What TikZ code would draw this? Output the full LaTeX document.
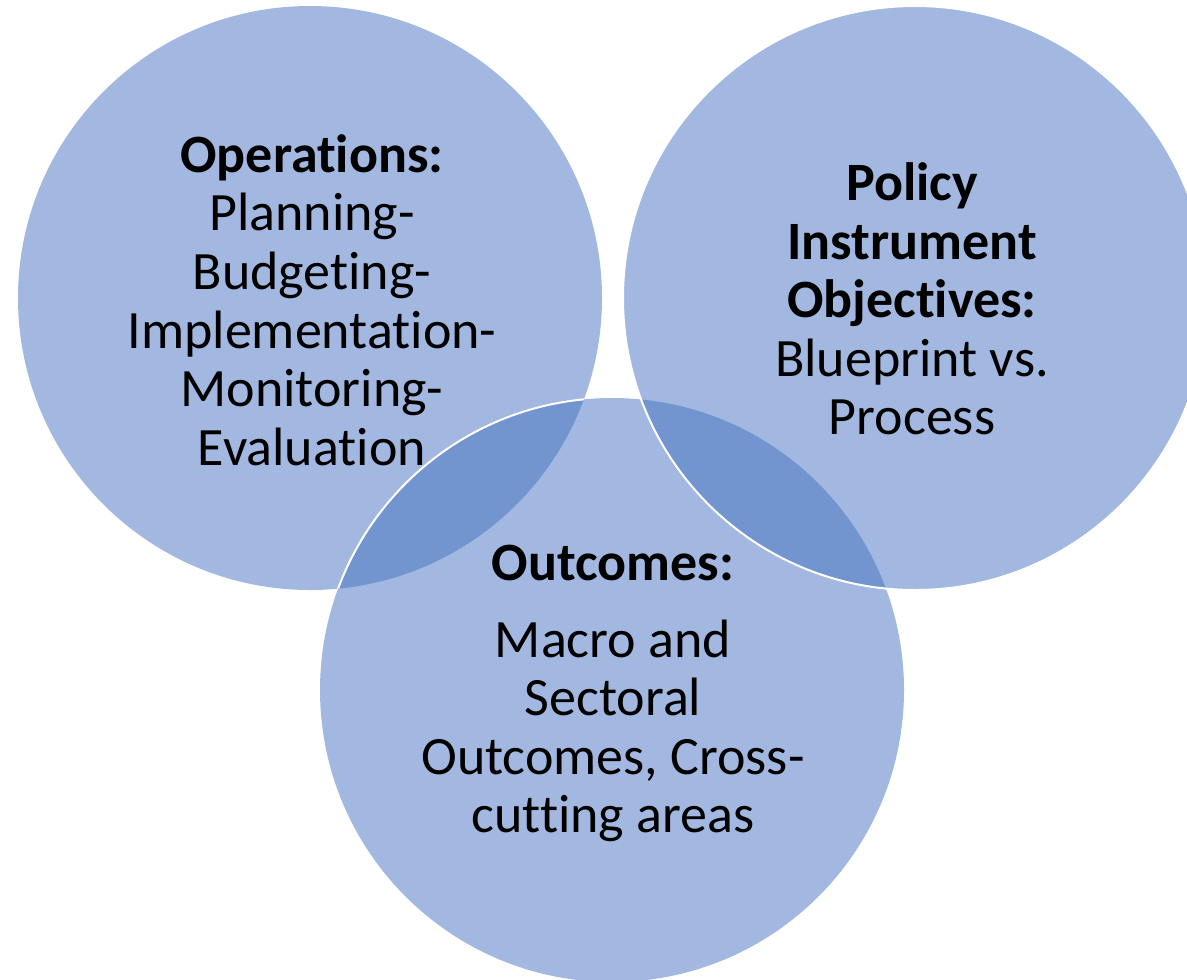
\documentclass[tikz,border=0pt]{standalone}
\usepackage{fontspec}
\setmainfont[RawFeature={-liga}]{Carlito}
\definecolor{ringfill}{HTML}{A2B8E0}
\definecolor{lensfill}{HTML}{7295CF}
\begin{document}
\begin{tikzpicture}[x=0.75pt,y=-0.75pt,
  label/.style={align=center,font=\fontsize{40.5}{43.9}\selectfont,inner sep=0pt}]
\useasboundingbox (0,0) rectangle (1187,979);
% circle centres and radius
\coordinate (cl) at (310,298);
\coordinate (cr) at (915,298);
\coordinate (cb) at (612,690);
\def\rad{292}
% the three discs
\fill[ringfill] (cl) circle[radius=\rad];
\fill[ringfill] (cb) circle[radius=\rad];
\fill[ringfill] (cr) circle[radius=\rad];
% overlapping lenses
\begin{scope}
  \clip (cl) circle[radius=\rad];
  \fill[lensfill] (cb) circle[radius=\rad];
\end{scope}
\begin{scope}
  \clip (cr) circle[radius=\rad];
  \fill[lensfill] (cb) circle[radius=\rad];
\end{scope}
% white rims of the upper layers
\begin{scope}
  \clip (cl) circle[radius=\rad];
  \draw[white,line width=1.5pt] (cb) circle[radius=\rad];
\end{scope}
\draw[white,line width=1.5pt] (cr) circle[radius=\rad];
% texts
\node[label] (ops) at (312,300) {\textbf{Operations:}\\Planning-\\Budgeting-\\Implementation-\\Monitoring-\\Evaluation};
\node[label] (pol) at (912,299) {\textbf{Policy}\\\textbf{Instrument}\\\textbf{Objectives:}\\Blueprint vs.\\Process};
\node[label] (outh) at (613,563) {\textbf{Outcomes:}};
\node[label] (outt) at (613,731) {Macro and\\Sectoral\\Outcomes, Cross-\\cutting areas};
\end{tikzpicture}
\end{document}
